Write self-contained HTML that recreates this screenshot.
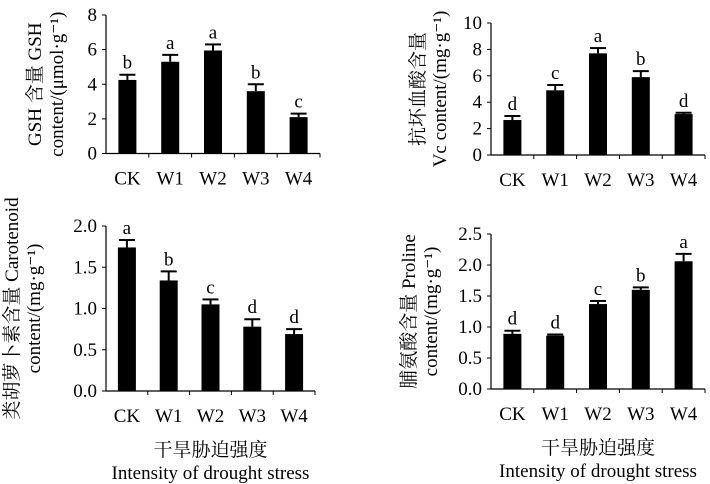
<!DOCTYPE html>
<html><head><meta charset="utf-8"><style>
html,body{margin:0;padding:0;background:#fff;}
svg{display:block;font-family:"Liberation Serif","Noto Serif CJK SC",serif;}
</style></head><body>
<svg id="c" width="710" height="484" viewBox="0 0 710 484"></svg>
<script>
const categories=["CK","W1","W2","W3","W4"];
const gshValues=[4.25,5.3,5.95,3.6,2.1];
const gshErrors=[0.3,0.4,0.35,0.4,0.2];
const gshLetters=["b","a","a","b","c"];
const gshTicks=["0","2","4","6","8"];
const vcValues=[2.65,4.9,7.7,5.9,3.1];
const vcErrors=[0.3,0.4,0.4,0.45,0.1];
const vcLetters=["d","c","a","b","d"];
const vcTicks=["0","2","4","6","8","10"];
const carValues=[1.74,1.34,1.05,0.78,0.69];
const carErrors=[0.09,0.11,0.06,0.09,0.06];
const carLetters=["a","b","c","d","d"];
const carTicks=["0.0","0.5","1.0","1.5","2.0"];
const proValues=[0.89,0.86,1.37,1.6,2.06];
const proErrors=[0.05,0.02,0.05,0.04,0.12];
const proLetters=["d","d","c","b","a"];
const proTicks=["0.0","0.5","1.0","1.5","2.0","2.5"];

const svg=document.getElementById('c');
const NS='http://www.w3.org/2000/svg';
function el(tag,attrs,parent){const e=document.createElementNS(NS,tag);for(const k in attrs)e.setAttribute(k,attrs[k]);(parent||svg).appendChild(e);return e;}

function panel(name,p,vals,errs,letters,ticks,ylab1,ylab2,xtitle){
  const g=el('g',{});
  
  
  const tmax=parseFloat(ticks[ticks.length-1]);
  const y=v=>p.y0-(v/tmax)*(p.y0-p.y1);
  const band=(p.x1-p.x0)/categories.length;
  const x=i=>p.x0+band*(i+0.5);
  const ya=el('line',{x1:p.x0,y1:p.y1,x2:p.x0,y2:p.y0,stroke:'#000','stroke-width':1.2},g);
  
  
  const xa=el('line',{x1:p.x0,y1:p.y0,x2:p.x1,y2:p.y0,stroke:'#000','stroke-width':1.2},g);
  
  
  ticks.forEach(t=>{
    const yy=y(parseFloat(t));
    el('line',{x1:p.x0-4,y1:yy,x2:p.x0,y2:yy,stroke:'#000','stroke-width':1},g);
    const tl=el('text',{x:p.x0-9,y:yy+6,'text-anchor':'end','font-size':19},g);
    tl.textContent=t;
    
    
  });
  for(let i=1;i<=categories.length;i++){
    const xx=p.x0+band*i;
    el('line',{x1:xx,y1:p.y0,x2:xx,y2:p.y0+4,stroke:'#000','stroke-width':1},g);
  }
  categories.forEach((c,i)=>{
    const cx=x(i);
    const top=y(vals[i]);
    const b=el('rect',{x:cx-9,y:top,width:18,height:p.y0-top,fill:'#000'},g);
    
    
    const et=y(vals[i]+errs[i]);
    el('line',{x1:cx,y1:top,x2:cx,y2:et,stroke:'#000','stroke-width':2},g);
    el('line',{x1:cx-8,y1:et,x2:cx+8,y2:et,stroke:'#000','stroke-width':2},g);
    const lt=el('text',{x:cx,y:et-6,'text-anchor':'middle','font-size':19},g);
    lt.textContent=letters[i];
    
    
    const xl=el('text',{x:cx,y:p.y0+31,'text-anchor':'middle','font-size':19},g);
    xl.textContent=c;
    
    
  });
  const yt=el('text',{transform:`translate(${p.lx},${(p.y0+p.y1)/2}) rotate(-90)`,'text-anchor':'middle','font-size':19},g);
  
  
  const t1=el('tspan',{x:0,dy:0},yt);t1.textContent=ylab1;
  const t2=el('tspan',{x:0,dy:22},yt);t2.textContent=ylab2;
  if(xtitle){
    const cx=(p.x0+p.x1)/2;
    const a=el('text',{x:cx,y:p.y0+65,'text-anchor':'middle','font-size':19},g);
    a.textContent='干旱胁迫强度';
    
    
    const b2=el('text',{x:cx,y:p.y0+88,'text-anchor':'middle','font-size':19},g);
    b2.textContent='Intensity of drought stress';
    
    
  }
}
panel('gsh-panel',{x0:106,x1:320,y0:153.5,y1:15,lx:41},gshValues,gshErrors,gshLetters,gshTicks,'GSH 含量 GSH','content/(μmol·g⁻¹)',false);
panel('vc-panel',{x0:491,x1:705,y0:155,y1:23,lx:424},vcValues,vcErrors,vcLetters,vcTicks,'抗坏血酸含量','Vc content/(mg·g⁻¹)',false);
panel('carotenoid-panel',{x0:106,x1:315,y0:391,y1:226,lx:18},carValues,carErrors,carLetters,carTicks,'类胡萝卜素含量 Carotenoid','content/(mg·g⁻¹)',true);
panel('proline-panel',{x0:491,x1:705,y0:389,y1:234,lx:415},proValues,proErrors,proLetters,proTicks,'脯氨酸含量 Proline','content/(mg·g⁻¹)',true);
</script>
</body></html>
